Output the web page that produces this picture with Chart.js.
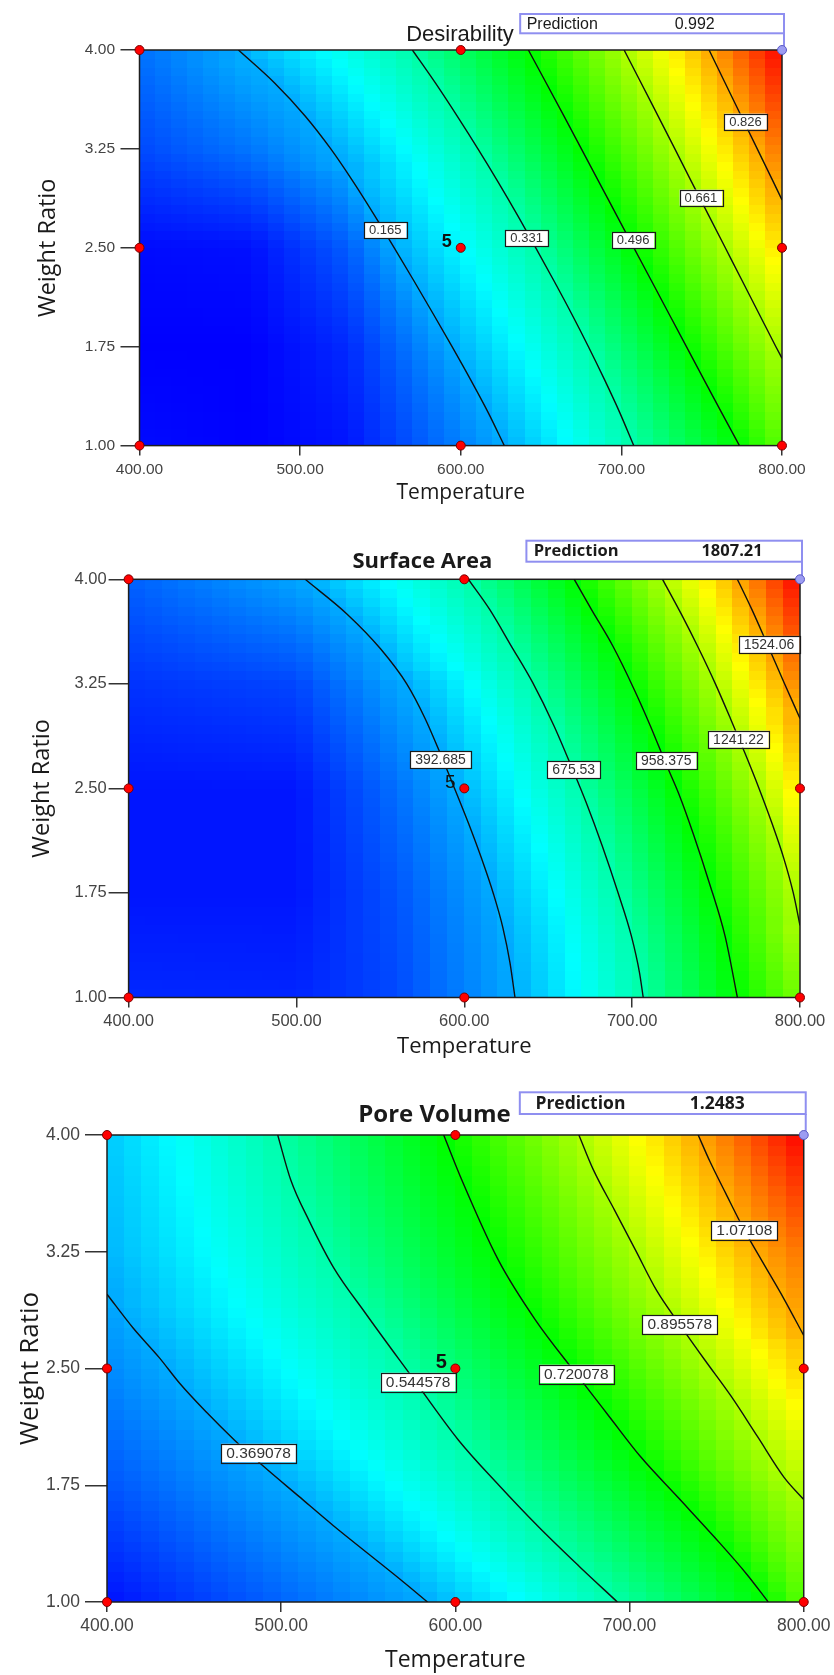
<!DOCTYPE html>
<html>
<head>
<meta charset="utf-8">
<script src="https://cdn.jsdelivr.net/npm/chart.js@4.4.1/dist/chart.umd.min.js"></script>
<style>
  html, body { margin: 0; padding: 0; background: #fff; }
  body { width: 834px; height: 1675px; position: relative; overflow: hidden; }
  canvas { position: absolute; left: 0; }
</style>
</head>
<body>
<canvas id="desirChart" width="834" height="510" style="top:0"></canvas>
<canvas id="areaChart" width="834" height="550" style="top:510px"></canvas>
<canvas id="poreChart" width="834" height="615" style="top:1060px"></canvas>
<script>
// shared axes
var tempTicks = [400, 500, 600, 700, 800];
var ratioTicks = [1.00, 1.75, 2.50, 3.25, 4.00];

// design points (temperature, weight ratio); centre point run 5 times
var designTemp = [400, 400, 400, 600, 600, 600, 800, 800];
var designRatio = [1.00, 2.50, 4.00, 1.00, 2.50, 4.00, 1.00, 2.50];
var centreRuns = 5;

// ---------- Desirability ----------
var desirPrediction = 0.992;
var desirLow = 0;
var desirLevels = [0.165, 0.331, 0.496, 0.661, 0.826];
var desirLine1 = [[461.6,4.00],[484.1,3.75],[503.1,3.50],[519.1,3.25],[533.1,3.00],[546.1,2.75],[558.6,2.50],[570.8,2.25],[582.8,2.00],[594.6,1.75],[606.1,1.50],[617.1,1.25],[627.1,1.00]];
var desirLine2 = [[569.9,4.00],[584.2,3.75],[597.7,3.50],[610.7,3.25],[623.2,3.00],[635.2,2.75],[646.7,2.50],[658.0,2.25],[669.0,2.00],[679.5,1.75],[689.5,1.50],[699.0,1.25],[707.7,1.00]];
var desirLine3 = [[642.1,4.00],[653.2,3.75],[664.2,3.50],[675.1,3.25],[686.0,3.00],[696.9,2.75],[707.8,2.50],[718.7,2.25],[729.6,2.00],[740.5,1.75],[751.4,1.50],[762.4,1.25],[773.5,1.00]];
var desirLine4 = [[701.7,4.00],[712.3,3.75],[722.8,3.50],[733.3,3.25],[743.7,3.00],[754.2,2.75],[764.7,2.50],[775.2,2.25],[785.7,2.00],[796.2,1.75],[800,1.662]];
var desirLine5 = [[754.6,4.00],[764.6,3.75],[774.6,3.50],[784.6,3.25],[794.6,3.00],[800,2.863]];
var desirLabelAt = [[553,2.635],[641,2.572],[707.3,2.559],[749.5,2.88],[777.3,3.457]];
// surface values down columns of the map, weight ratio 1.00 -> 4.00
var desirAt400 = [0.01, 0.00, 0.01, 0.07, 0.11];
var desirAt470 = [0.00, 0.00, 0.015, 0.115, 0.18];
var desirAt530 = [0.02, 0.04, 0.09, 0.18, 0.27];
var desirAt800 = [0.59, 0.67, 0.775, 0.885, desirPrediction];

// ---------- Surface Area ----------
var areaPrediction = 1807.21;
var areaLow = 109.84;
var areaLevels = [392.685, 675.53, 958.375, 1241.22, 1524.06];
var areaLine1 = [[505.2,4.00],[530.2,3.75],[550.2,3.50],[565.7,3.25],[576.7,3.00],[585.7,2.75],[594.2,2.50],[602.5,2.25],[610.2,2.00],[617.2,1.75],[623.0,1.50],[627.2,1.25],[630.2,1.00]];
var areaLine2 = [[602.4,4.00],[615.1,3.784],[627.9,3.523],[640.6,3.262],[653.4,2.950],[664.5,2.637],[672.5,2.402],[682.1,2.090],[691.6,1.751],[699.6,1.438],[704.4,1.177],[706.6,1.00]];
var areaLine3 = [[665.5,4.00],[675.7,3.784],[688.4,3.523],[701.2,3.210],[710.8,2.950],[719.7,2.689],[728.0,2.455],[736.6,2.168],[745.8,1.829],[755.4,1.438],[762.7,1.00]];
var areaLine4 = [[718.1,4.00],[729.3,3.75],[739.8,3.50],[749.6,3.25],[758.6,3.00],[767.3,2.75],[775.6,2.50],[783.3,2.25],[790.3,2.00],[796.0,1.75],[800,1.517]];
var areaLine5 = [[762.7,4.00],[771.3,3.784],[780.9,3.523],[790.4,3.262],[800,3.002]];
var areaLabelAt = [[585.8,2.707],[665.2,2.632],[720.3,2.699],[763.3,2.853],[781.5,3.533]];
var areaAt400 = [176, 144, 144, 193, 270];
var areaAt500 = [170, 145, 145, 225, 385];
var areaAt560 = [230, 250, 295, 385, 550];
var areaAt800 = [1160, 1300, 1430, 1600, areaPrediction];

// ---------- Pore Volume ----------
var porePrediction = 1.2483;
var poreLow = 0.193578;
var poreLevels = [0.369078, 0.544578, 0.720078, 0.895578, 1.07108];
var poreLine1 = [[400,2.977],[415,2.76],[430,2.57],[441.7,2.405],[457,2.22],[473.1,2.041],[490,1.87],[510,1.68],[530,1.49],[550,1.31],[570,1.13],[584,1.00]];
var poreLine2 = [[498,4.00],[505.5,3.711],[516,3.45],[530,3.15],[548.4,2.855],[575,2.447],[601.7,2.041],[625,1.75],[648,1.48],[671,1.23],[693,1.00]];
var poreLine3 = [[593.3,4.00],[603.7,3.711],[624.7,3.196],[645.7,2.816],[669.4,2.465],[688.3,2.192],[706.5,1.931],[727.9,1.671],[749.2,1.411],[767.4,1.177],[779.6,1.00]];
var poreLine4 = [[670.9,4.00],[679.1,3.779],[691.3,3.519],[703.5,3.259],[715.7,2.998],[728.8,2.782],[743.1,2.556],[758.3,2.322],[773.5,2.062],[788.7,1.801],[800,1.658]];
var poreLine5 = [[739.4,4.00],[746.1,3.831],[755.3,3.623],[765.9,3.389],[776.6,3.180],[788.7,2.946],[800,2.712]];
var poreLabelAt = [[487,1.957],[578.6,2.413],[669.4,2.465],[728.8,2.782],[765.9,3.389]];
var poreAt400 = [0.21, 0.28, 0.335, 0.38, 0.40];
var poreAt800 = [0.82, 0.91, 1.035, 1.13, porePrediction];

var GRID_X = 40, GRID_Y = 46;
var mapStops = [[0,0,255],[0,255,255],[0,255,0],[255,255,0],[255,0,0]];

var panels = [
  {
    canvas: 'desirChart', height: 510, title: 'Desirability', titleFont: '22px "Liberation Sans", Arial, sans-serif',
    titleDx: 320.5, titleRise: 9.3,
    predText: desirPrediction.toFixed(3), predFont: '16px "Liberation Sans", Arial, sans-serif',
    predFrom: 637, predAbove: 36, predH: 19.3, predTextX: 6.5, predValueX: 154.5,
    low: desirLow, high: desirPrediction, levels: desirLevels,
    lines: [desirLine1, desirLine2, desirLine3, desirLine4, desirLine5], labelAt: desirLabelAt,
    columns: [{t: 400, v: desirAt400}, {t: 470, v: desirAt470}, {t: 530, v: desirAt530}, {t: 800, v: desirAt800}],
    labelSize: 13, centreFont: 'bold 18px "Liberation Sans Narrow", "Liberation Sans", Arial, sans-serif',
    plotLeft: 139.5, plotRight: 782, plotTop: 50, plotBottom: 445.6,
    tickSize: 15.5, xTickPad: 5.1, yTickLen: 19, yTickPad: 5.5,
    xTitleSize: 21, xTitlePadB: 4.4, yTitleSize: 23.5, yTitlePadT: 33.9
  },
  {
    canvas: 'areaChart', height: 550, title: 'Surface Area', titleFont: 'bold 22px "Open Sans", sans-serif',
    titleDx: 293.8, titleRise: 11,
    predText: areaPrediction.toFixed(2), predFont: 'bold 16.5px "Open Sans", sans-serif',
    predFrom: 637, predAbove: 38.6, predH: 21, predTextX: 7.3, predValueX: 175,
    low: areaLow, high: areaPrediction, levels: areaLevels,
    lines: [areaLine1, areaLine2, areaLine3, areaLine4, areaLine5], labelAt: areaLabelAt,
    columns: [{t: 400, v: areaAt400}, {t: 500, v: areaAt500}, {t: 560, v: areaAt560}, {t: 800, v: areaAt800}],
    labelSize: 14, centreFont: '19px "Liberation Sans", Arial, sans-serif',
    plotLeft: 128.6, plotRight: 800, plotTop: 69.3, plotBottom: 487.5,
    tickSize: 16.5, xTickPad: 3.6, yTickLen: 20, yTickPad: 2,
    xTitleSize: 22, xTitlePadB: 0, yTitleSize: 23.5, yTitlePadT: 28.5
  },
  {
    canvas: 'poreChart', height: 615, title: 'Pore Volume', titleFont: 'bold 24px "Open Sans", sans-serif',
    titleDx: 327.5, titleRise: 13.3,
    predText: porePrediction.toFixed(4), predFont: 'bold 17.5px "Open Sans", sans-serif',
    predFrom: 637, predAbove: 42.7, predH: 21.7, predTextX: 15.6, predValueX: 170,
    low: poreLow, high: 1.24658, levels: poreLevels,
    lines: [poreLine1, poreLine2, poreLine3, poreLine4, poreLine5], labelAt: poreLabelAt,
    columns: [{t: 400, v: poreAt400}, {t: 800, v: poreAt800}],
    labelSize: 15.5, centreFont: 'bold 20px "Liberation Sans Narrow", "Liberation Sans", Arial, sans-serif',
    plotLeft: 107, plotRight: 807, plotTop: 75, plotBottom: 542,
    tickSize: 17.5, xTickPad: 3.5, yTickLen: 22, yTickPad: 5,
    xTitleSize: 23, xTitlePadB: 0.7, yTitleSize: 26, yTitlePadT: 15.4
  }
];

// value of a column of the map at weight ratio w
function columnAt(vals, w) {
  for (var k = 0; k < ratioTicks.length - 1; k++) {
    if (w <= ratioTicks[k + 1]) {
      var f = (w - ratioTicks[k]) / (ratioTicks[k + 1] - ratioTicks[k]);
      return vals[k] + f * (vals[k + 1] - vals[k]);
    }
  }
  return vals[vals.length - 1];
}

// where a contour crosses the row at weight ratio w
function crossingAt(line, w) {
  for (var k = 0; k < line.length - 1; k++) {
    var a = line[k], b = line[k + 1];
    var lo = Math.min(a[1], b[1]), hi = Math.max(a[1], b[1]);
    if (hi > lo && w >= lo && w <= hi) {
      return a[0] + (w - a[1]) / (b[1] - a[1]) * (b[0] - a[0]);
    }
  }
  return null;
}

function surfaceAt(p, t, w) {
  var knots = [];
  p.columns.forEach(function (c) { knots.push([c.t, columnAt(c.v, w)]); });
  p.lines.forEach(function (ln, i) {
    var x = crossingAt(ln, w);
    if (x !== null) knots.push([x, p.levels[i]]);
  });
  knots.sort(function (a, b) { return a[0] - b[0]; });
  if (t <= knots[0][0]) return knots[0][1];
  for (var k = 0; k < knots.length - 1; k++) {
    if (t <= knots[k + 1][0]) {
      var span = knots[k + 1][0] - knots[k][0];
      var f = span > 0 ? (t - knots[k][0]) / span : 0;
      return knots[k][1] + f * (knots[k + 1][1] - knots[k][1]);
    }
  }
  return knots[knots.length - 1][1];
}

function colourFor(p, v) {
  var f = (v - p.low) / (p.high - p.low);
  f = Math.max(0, Math.min(1, f)) * 4;
  var k = Math.min(3, Math.floor(f)), r = f - k;
  var a = mapStops[k], b = mapStops[k + 1];
  return 'rgb(' + Math.round(a[0] + (b[0] - a[0]) * r) + ',' +
    Math.round(a[1] + (b[1] - a[1]) * r) + ',' + Math.round(a[2] + (b[2] - a[2]) * r) + ')';
}

function makePanelPlugin(p) {
  return {
    id: 'panel_' + p.canvas,
    beforeDatasetsDraw: function (chart) {
      var ctx = chart.ctx, xs = chart.scales.x, ys = chart.scales.y, ca = chart.chartArea;
      ctx.save();
      // coloured response map
      var dT = 400 / GRID_X, dW = 3 / GRID_Y;
      for (var i = 0; i < GRID_X; i++) {
        var t0 = 400 + i * dT;
        var x0 = Math.floor(xs.getPixelForValue(t0)), x1 = Math.ceil(xs.getPixelForValue(t0 + dT));
        for (var j = 0; j < GRID_Y; j++) {
          var w0 = 1 + j * dW;
          var y0 = Math.floor(ys.getPixelForValue(w0 + dW)), y1 = Math.ceil(ys.getPixelForValue(w0));
          ctx.fillStyle = colourFor(p, surfaceAt(p, t0 + dT / 2, w0 + dW / 2));
          ctx.fillRect(x0, y0, x1 - x0, y1 - y0);
        }
      }
      // frame
      ctx.strokeStyle = '#1e1e1e';
      ctx.lineWidth = 1.5;
      ctx.strokeRect(ca.left, ca.top, ca.right - ca.left, ca.bottom - ca.top);

      // prediction flag
      var bx0 = xs.getPixelForValue(p.predFrom), bx1 = xs.getPixelForValue(800) + 2;
      var by0 = ca.top - p.predAbove, by1 = by0 + p.predH;
      ctx.strokeStyle = '#8f8ff0';
      ctx.lineWidth = 2;
      ctx.strokeRect(bx0, by0, bx1 - bx0, by1 - by0);
      ctx.beginPath();
      ctx.moveTo(bx1, by1);
      ctx.lineTo(bx1, ys.getPixelForValue(4));
      ctx.stroke();
      ctx.fillStyle = '#1a1a1a';
      ctx.font = p.predFont;
      ctx.textAlign = 'left';
      ctx.textBaseline = 'middle';
      ctx.fillText('Prediction', bx0 + p.predTextX, (by0 + by1) / 2 + 0.5);
      ctx.fillText(p.predText, bx0 + p.predValueX, (by0 + by1) / 2 + 0.5);

      // panel title
      ctx.font = p.titleFont;
      ctx.textAlign = 'center';
      ctx.textBaseline = 'alphabetic';
      ctx.fillText(p.title, ca.left + p.titleDx, ca.top - p.titleRise);
      ctx.restore();
    },
    afterDatasetsDraw: function (chart) {
      var ctx = chart.ctx, xs = chart.scales.x, ys = chart.scales.y;
      ctx.save();
      ctx.font = p.labelSize + 'px "Liberation Sans", Arial, sans-serif';
      ctx.textAlign = 'center';
      ctx.textBaseline = 'middle';
      p.labelAt.forEach(function (pos, i) {
        var txt = String(p.levels[i]);
        var cx = xs.getPixelForValue(pos[0]), cy = ys.getPixelForValue(pos[1]);
        var w = ctx.measureText(txt).width + 10, h = p.labelSize + 3;
        ctx.fillStyle = '#ffffff';
        ctx.fillRect(cx - w / 2, cy - h / 2, w, h);
        ctx.strokeStyle = '#1a1a1a';
        ctx.lineWidth = 1.2;
        ctx.strokeRect(Math.round(cx - w / 2) + 0.5, Math.round(cy - h / 2) + 0.5, Math.round(w), Math.round(h));
        ctx.fillStyle = '#333';
        ctx.fillText(txt, cx, cy + 0.5);
      });
      // replicate count beside the centre point
      ctx.font = p.centreFont;
      ctx.fillStyle = '#111';
      ctx.fillText(String(centreRuns), xs.getPixelForValue(600) - 14, ys.getPixelForValue(2.5) - 6);
      ctx.restore();
    }
  };
}

panels.forEach(function (p) {
  var datasets = [
    {
      data: [{x: 800, y: 4}],
      backgroundColor: '#9c9cf2', borderColor: '#5a5ac4', borderWidth: 1,
      pointRadius: 4.5, showLine: false, clip: false
    },
    {
      data: designTemp.map(function (t, i) { return {x: t, y: designRatio[i]}; }),
      backgroundColor: '#ff0000', borderColor: '#7a0000', borderWidth: 1,
      pointRadius: 4.5, showLine: false, clip: false
    }
  ].concat(p.lines.map(function (ln) {
    return {
      data: ln.map(function (q) { return {x: q[0], y: q[1]}; }),
      showLine: true, borderColor: '#111', borderWidth: 1.4,
      pointRadius: 0, cubicInterpolationMode: 'monotone', fill: false
    };
  }));

  new Chart(document.getElementById(p.canvas), {
    type: 'scatter',
    data: {datasets: datasets},
    options: {
      responsive: false,
      animation: false,
      devicePixelRatio: 1,
      events: [],
      layout: {
        autoPadding: false,
        padding: {left: 0, right: 834 - p.plotRight, top: p.plotTop, bottom: 0}
      },
      plugins: {legend: {display: false}, title: {display: false}, tooltip: {enabled: false}},
      scales: {
        x: {
          type: 'linear', min: 400, max: 800,
          afterBuildTicks: function (s) { s.ticks = tempTicks.map(function (v) { return {value: v}; }); },
          afterFit: function (s) { s.height = p.height - p.plotBottom; },
          ticks: {
            autoSkip: false, maxRotation: 0, padding: p.xTickPad, color: '#444',
            font: {family: '"Liberation Sans", Arial, sans-serif', size: p.tickSize},
            callback: function (v) { return Number(v).toFixed(2); }
          },
          grid: {drawOnChartArea: false, drawTicks: true, tickLength: 10, color: '#333', lineWidth: 1.5},
          border: {display: false},
          title: {
            display: true, text: 'Temperature', color: '#1a1a1a',
            font: {family: '"Open Sans", sans-serif', size: p.xTitleSize},
            padding: {top: 0, bottom: p.xTitlePadB}
          }
        },
        y: {
          type: 'linear', min: 1, max: 4,
          afterBuildTicks: function (s) { s.ticks = ratioTicks.map(function (v) { return {value: v}; }); },
          afterFit: function (s) { s.width = p.plotLeft; },
          ticks: {
            autoSkip: false, padding: p.yTickPad, color: '#444',
            font: {family: '"Liberation Sans", Arial, sans-serif', size: p.tickSize},
            callback: function (v) { return Number(v).toFixed(2); }
          },
          grid: {drawOnChartArea: false, drawTicks: true, tickLength: p.yTickLen, color: '#333', lineWidth: 1.5},
          border: {display: false},
          title: {
            display: true, text: 'Weight Ratio', color: '#1a1a1a',
            font: {family: '"Open Sans", sans-serif', size: p.yTitleSize},
            padding: {top: p.yTitlePadT, bottom: 0}
          }
        }
      }
    },
    plugins: [makePanelPlugin(p)]
  });
});
</script>
</body>
</html>
